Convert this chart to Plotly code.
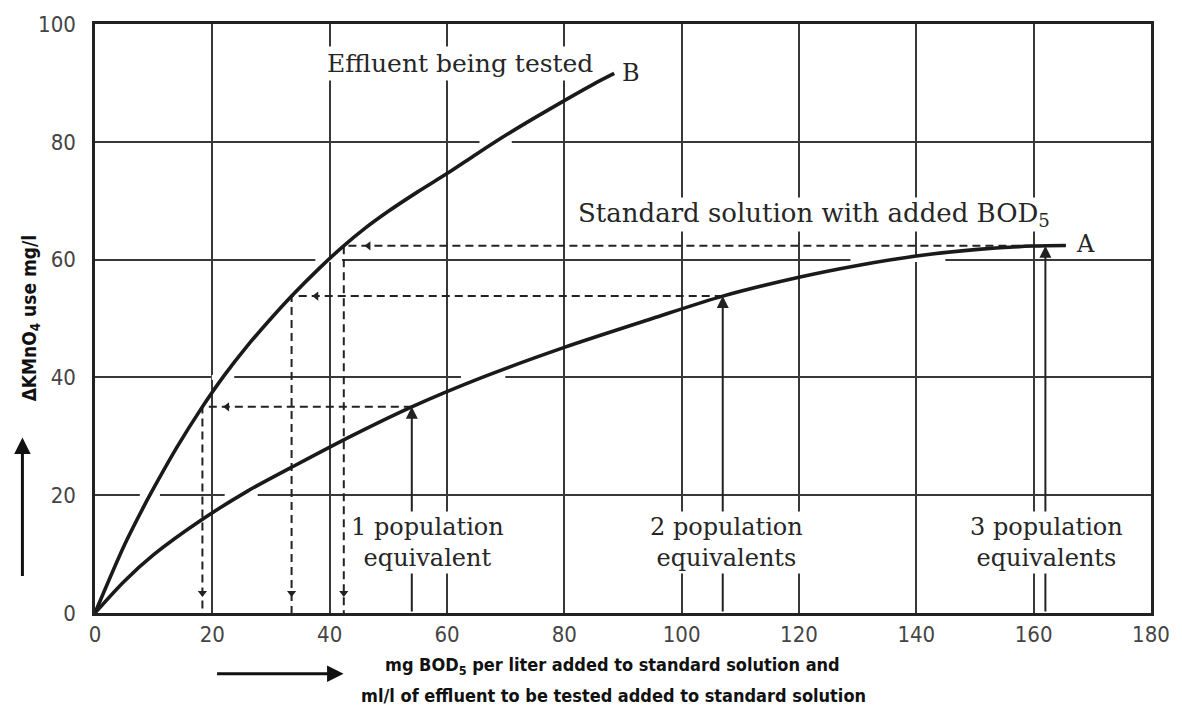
import numpy as np
import plotly.graph_objects as go

# Curve B: effluent being tested
eff_x = [0, 5, 8.75, 10, 14, 18.1, 22, 26, 30, 33.6, 38, 42, 46, 50, 55, 60, 65, 70, 75, 80, 85, 88.5]
eff_y = [0, 11.5, 18.9, 21.2, 28.2, 34.7, 40.3, 45.4, 50.0, 53.9, 58.3, 62.0, 65.3, 68.2, 71.5, 74.6, 77.9, 81.1, 84.1, 87.0, 89.8, 91.6]

# Curve A: standard solution with added BOD5
std_x = [0, 5, 10, 18, 26, 34, 44, 54, 66, 80, 95, 107, 120, 130, 140, 150, 160, 165.5]
std_y = [0, 5.4, 9.9, 15.7, 20.7, 25.0, 30.2, 35.0, 40.0, 45.1, 50.0, 53.8, 57.0, 59.0, 60.6, 61.7, 62.3, 62.4]

# Population equivalents read on the standard curve
pe_x = [54, 107, 162]
pe_labels = ["1 population<br>equivalent", "2 population<br>equivalents", "3 population<br>equivalents"]

x_ticks = [0, 20, 40, 60, 80, 100, 120, 140, 160, 180]
y_ticks = [0, 20, 40, 60, 80, 100]

INK = "#222222"
GRID = "#383838"
TXT = "#262626"
SERIF = "DejaVu Serif, serif"
COND = "DejaVu Sans Condensed, DejaVu Sans, sans-serif"

W, H = 1182, 718
ML, MR, MT, MB = 95, 25, 22, 105
sx = (W - ML - MR) / 180.0
sy = (H - MT - MB) / 100.0

pe_level = [float(np.interp(v, std_x, std_y)) for v in pe_x]
pe_eff = [float(np.interp(v, eff_y, eff_x)) for v in pe_level]

fig = go.Figure()

# dashed read-off lines: from curve A across to curve B, then down to the x axis
for xa, lv, xb in zip(pe_x, pe_level, pe_eff):
    fig.add_trace(go.Scatter(x=[xa, xb, xb], y=[lv, lv, 0], mode="lines",
                             line=dict(color=INK, width=2, dash="8px,5px"),
                             hoverinfo="skip", showlegend=False))
    fig.add_trace(go.Scatter(x=[xb + 4.2, xb], y=[lv, 3.4], mode="markers",
                             marker=dict(symbol=["triangle-left", "triangle-down"],
                                         size=8, color=INK),
                             hoverinfo="skip", showlegend=False))

# the two curves
for cx, cy in ((eff_x, eff_y), (std_x, std_y)):
    fig.add_trace(go.Scatter(x=cx, y=cy, mode="lines",
                             line=dict(color="#1a1a1a", width=3.6, shape="spline", smoothing=0.8),
                             hoverinfo="skip", showlegend=False))

# breaks in the horizontal grid lines where a curve crosses them
shapes = []
for cx, cy in ((eff_x, eff_y), (std_x, std_y)):
    xs = np.linspace(cx[0], cx[-1], 3000)
    ys = np.interp(xs, cx, cy)
    for g in y_ticks[1:-1]:
        near = np.abs(ys - g) * sy < 6
        if not near.any():
            continue
        idx = np.flatnonzero(near)
        runs = np.split(idx, np.flatnonzero(np.diff(idx) > 1) + 1)
        for r in runs:
            x0 = xs[r[0]] - 7 / sx
            x1 = xs[r[-1]] + 7 / sx
            shapes.append(dict(type="line", xref="x", yref="y", x0=x0, x1=x1, y0=g, y1=g,
                               line=dict(color="white", width=5), layer="between"))

annotations = []
# solid arrows rising from the x axis to curve A
for xa, lv in zip(pe_x, pe_level):
    annotations.append(dict(x=xa, y=lv, ax=xa, ay=0, xref="x", yref="y", axref="x", ayref="y",
                            text="", showarrow=True, arrowhead=2, arrowsize=1.2,
                            arrowwidth=2, arrowcolor=INK))

# population equivalent labels (white boxes interrupt the lines behind them)
label_dx = [2.6, 0.6, 0.2]
for xa, dx, lab in zip(pe_x, label_dx, pe_labels):
    annotations.append(dict(x=xa + dx, y=11.9, xref="x", yref="y", text=lab, showarrow=False,
                            font=dict(family=SERIF, size=24, color=TXT),
                            bgcolor="white", borderpad=1, align="center"))

annotations += [
    dict(x=62.2, y=93.3, xref="x", yref="y", text="Effluent being tested", showarrow=False,
         font=dict(family=SERIF, size=25, color=TXT), bgcolor="white", borderpad=2),
    dict(x=91.3, y=91.6, xref="x", yref="y", text="B", showarrow=False,
         font=dict(family=SERIF, size=24, color=TXT)),
    dict(x=122.6, y=67.6, xref="x", yref="y", text="Standard solution with added BOD<sub>5</sub>",
         showarrow=False, font=dict(family=SERIF, size=26, color=TXT),
         bgcolor="white", borderpad=0),
    dict(x=168.9, y=62.7, xref="x", yref="y", text="A", showarrow=False,
         font=dict(family=SERIF, size=24, color=TXT)),
    # axis titles
    dict(x=(615 - ML) / (W - ML - MR), y=(H - MB - 666) / (H - MT - MB), xref="paper", yref="paper",
         text="<b>mg BOD<sub>5</sub> per liter added to standard solution and</b>", showarrow=False,
         font=dict(family=COND, size=18, color="#111111"), xanchor="center", yanchor="middle"),
    dict(x=(616 - ML) / (W - ML - MR), y=(H - MB - 696) / (H - MT - MB), xref="paper", yref="paper",
         text="<b>ml/l of effluent to be tested added to standard solution</b>", showarrow=False,
         font=dict(family=COND, size=18, color="#111111"), xanchor="center", yanchor="middle"),
    dict(x=(30 - ML) / (W - ML - MR), y=(H - MB - 317) / (H - MT - MB), xref="paper", yref="paper",
         text="<b>ΔKMnO<sub>4</sub> use mg/l</b>", textangle=-90, showarrow=False,
         font=dict(family=COND, size=19, color="#111111"), xanchor="center", yanchor="middle"),
    # direction arrows beside the axis titles
    dict(x=(345 - ML) / (W - ML - MR), y=(H - MB - 674) / (H - MT - MB), xref="paper", yref="paper",
         ax=-128, ay=0, text="", showarrow=True, arrowhead=2, arrowsize=1.1, arrowwidth=3, arrowcolor="#111111"),
    dict(x=(22 - ML) / (W - ML - MR), y=(H - MB - 437) / (H - MT - MB), xref="paper", yref="paper",
         ax=0, ay=140, text="", showarrow=True, arrowhead=2, arrowsize=1.1, arrowwidth=3, arrowcolor="#111111"),
]

axis_common = dict(showgrid=True, gridcolor=GRID, gridwidth=2, zeroline=False,
                   showline=True, linecolor=INK, linewidth=2.5, mirror=True, ticks="",
                   tickfont=dict(family=COND, size=22, color="#444444"))

fig.update_layout(
    width=W, height=H,
    margin=dict(l=ML, r=MR, t=MT, b=MB),
    paper_bgcolor="white", plot_bgcolor="white",
    xaxis=dict(range=[0, 180], tickvals=x_ticks, ticklabelstandoff=0, **axis_common),
    yaxis=dict(range=[0, 100], tickvals=y_ticks, ticklabelstandoff=12, **axis_common),
    shapes=shapes,
    annotations=annotations,
    showlegend=False,
)

fig.write_html("out.html")
